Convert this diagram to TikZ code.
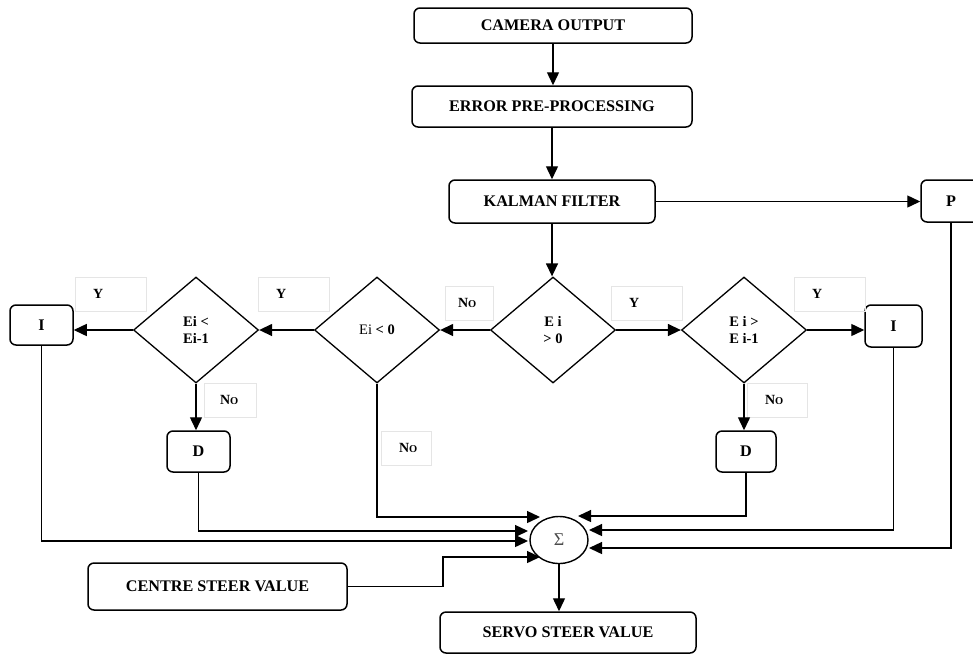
\documentclass[tikz,border=0pt]{standalone}
\usepackage{fontspec}
\setmainfont{Liberation Serif}
\usetikzlibrary{arrows.meta}
\usetikzlibrary{shapes.geometric}

\newcommand{\NoTxt}{\textbf{N}{\fontsize{10.5}{10}\selectfont O}}

\begin{document}
\begin{tikzpicture}[x=1pt,y=-1pt,
  box/.style={draw,line width=1.5pt,rounded corners=6pt,inner sep=0pt,font=\fontsize{16.2}{18}\selectfont\bfseries},
  test/.style={draw,diamond,line width=1.3pt,minimum width=125pt,minimum height=106pt,inner sep=0pt,align=center,font=\fontsize{14.5}{17}\selectfont\bfseries},
  lbl/.style={draw=black!10,line width=0.6pt,minimum height=34pt,inner ysep=0pt,inner xsep=18pt,align=left,font=\fontsize{14}{15}\selectfont\bfseries},
  flow/.style={line width=1.4pt,-{Triangle[length=13pt,width=12pt]}}]
  % page frame
  \useasboundingbox (0,0) rectangle (973,654);

  % main chain
  \node[box,minimum width=278pt,minimum height=35pt] (camera) at (553,25.5) {CAMERA OUTPUT};
  \node[box,minimum width=280pt,minimum height=41pt] (error) at (552,106.5) {ERROR PRE-PROCESSING};
  \node[box,minimum width=206pt,minimum height=43pt] (kalman) at (552,201.5) {KALMAN FILTER};
  \node[box,minimum width=60pt,minimum height=42pt] (p) at (951,201) {P};

  % decisions
  \node[test] (ep) at (553,330) {E i\\> 0};
  \node[test] (egt) at (744,330) {E i >\\E i-1};
  \node[test] (elt0) at (377,330) {{\mdseries Ei} < 0};
  \node[test] (elt) at (196,330) {Ei <\\Ei-1};

  \node[box,minimum width=63pt,minimum height=40pt] (iL) at (41.5,325) {I};
  \node[box,minimum width=57pt,minimum height=42pt] (iR) at (893.5,326) {I};
  \node[box,minimum width=63pt,minimum height=41pt] (dL) at (198.5,451.5) {D};
  \node[box,minimum width=60pt,minimum height=41pt] (dR) at (746,451.5) {D};

  % branch labels
  \node[lbl,text width=35pt] (yL1) at (110.5,294) {Y};
  \node[lbl,text width=35pt] (yL2) at (293.5,294) {Y};
  \node[lbl,text width=22pt,inner xsep=13pt] (nM) at (469,303) {\NoTxt};
  \node[lbl,text width=20pt,inner xsep=16pt] (nL1) at (230,400) {\NoTxt};
  \node[lbl,text width=14pt] (nL2) at (406,448) {\NoTxt};
  \node[lbl,text width=35pt] (yR1) at (646.5,303) {Y};
  \node[lbl,text width=35pt] (yR2) at (829.5,294) {Y};
  \node[lbl,text width=24pt] (nR) at (777,400) {\NoTxt};

  % summing point and steer values
  \node[draw,ellipse,line width=1.4pt,minimum width=58pt,minimum height=47pt,inner sep=0pt,text=black!70,font=\fontsize{18}{18}\selectfont] (sum) at (559,540) {Σ};
  \node[box,minimum width=259pt,minimum height=47pt] (centre) at (217.5,586.5) {CENTRE STEER VALUE};
  \node[box,minimum width=256pt,minimum height=41pt] (servo) at (568,632.5) {SERVO STEER VALUE};

  \coordinate (s1) at (540,517);
  \coordinate (s2) at (528,531);
  \coordinate (s3) at (528,541);
  \coordinate (s4) at (540,557);
  \coordinate (s4bend) at (443,557);
  \coordinate (s5) at (578,516);
  \coordinate (s6) at (589,530);
  \coordinate (s7) at (589,548);

  \draw[flow] (camera.south) -- (camera.south |- error.north);
  \draw[flow] (error.south) -- (error.south |- kalman.north);
  \draw[flow] (kalman.south) -- (kalman.south |- ep.north);
  \draw[flow] (kalman.east) -- (kalman.east -| p.west);

  \draw[flow] (ep.west) -- (elt0.east);
  \draw[flow] (ep.east) -- (egt.west);
  \draw[flow] (elt0.west) -- (elt.east);
  \draw[flow] (elt.west) -- (elt.west -| iL.east);
  \draw[flow] (egt.east) -- (egt.east -| iR.west);
  \draw[flow] (elt.south) -- (elt.south |- dL.north);
  \draw[flow] (egt.south) -- (egt.south |- dR.north);

  % into the sum
  \draw[flow] (elt0.south) |- (s1);
  \draw[flow] (dL.south) |- (s2);
  \draw[flow] (iL.south) |- (s3);
  \draw[flow] (centre.east) -| (s4bend) -- (s4);
  \draw[flow] (dR.south) |- (s5);
  \draw[flow] (iR.south) |- (s6);
  \draw[flow] (p.south) |- (s7);
  \draw[flow] (sum.south) -- (sum.south |- servo.north);

\end{tikzpicture}
\end{document}
